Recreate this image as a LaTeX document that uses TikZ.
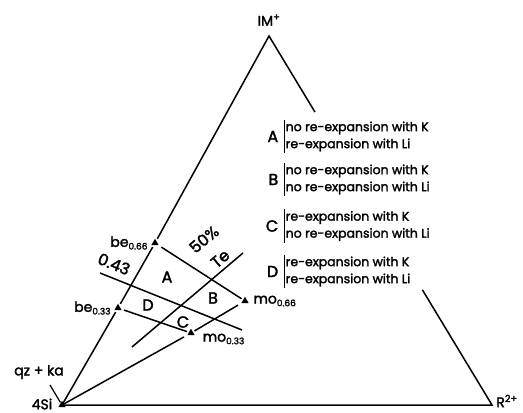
\documentclass[tikz,border=0pt]{standalone}
\usepackage{fontspec}
\setmainfont{Poppins}[FakeBold=2]
\usetikzlibrary{positioning,calc,shapes.geometric}
\newcommand{\lowsub}[1]{\raisebox{-0.35ex}{\fontsize{9}{9}\selectfont #1}}
\tikzset{
  tri/.style={regular polygon, regular polygon sides=3, fill, draw=none,
    inner sep=0pt, minimum size=8.5pt, outer sep=2pt},
  lbl/.style={inner sep=1pt, font=\fontsize{14}{15}\selectfont},
  tilted/.style={inner sep=0pt, align=center, font=\fontsize{16}{25}\selectfont},
  region/.style={inner sep=0pt, font=\fontsize{16}{16}\selectfont},
  legtext/.style={align=left, anchor=west, inner sep=1pt,
    font=\fontsize{12.5}{17}\selectfont},
  legletter/.style={inner sep=1pt, font=\fontsize{16}{16}\selectfont}
}
\begin{document}
\begin{tikzpicture}[x=1pt, y=-1pt, line width=1.5pt]
  \useasboundingbox (0,0) rectangle (523,413);
  % corners of the diagram
  \coordinate (si) at (62,405);
  \coordinate (m) at (269,36);
  \coordinate (r) at (492,405);
  \coordinate (rup) at ($(m)!0.206!(r)$);
  \coordinate (rlo) at ($(m)!0.688!(r)$);
  \node[tri] (tsi) at (si) {};
  \node[tri] (be66) at (155,243) {};
  \node[tri] (be33) at (118,308) {};
  \node[tri] (mo66) at (245,301) {};
  \node[tri] (mo33) at (191,333) {};
  % sides
  \draw[line join=miter] (si) -- (be33) -- (be66) -- (m) -- (rup);
  \draw (rlo) -- (r) -- (si);
  \draw (si) -- (mo33) -- (mo66);
  \draw (be66) -- (mo66);
  \draw (be33) -- (mo33);
  % 0.43 and 50% Te lines
  \coordinate (q0) at (100,273);
  \coordinate (q1) at (242,330);
  \draw (q0) -- (q1);
  \coordinate (t0) at (132,347);
  \coordinate (t1) at (243,253);
  \draw (t0) -- (t1);
  % corner labels
  \node[lbl] (lm) at (269,20) {IM\textsuperscript{+}};
  \node[lbl] (lsi) at (42,404) {4Si};
  \node[lbl] (lr) at (507,401) {R\textsuperscript{2+}};
  \node[lbl] (lqz) at (39,372) {qz + ka};
  \coordinate (qzend) at (50,385);
  \draw[line width=1.2pt, shorten >=3pt] (qzend) -- (si);
  \node[lbl, left=1pt of be66] (lbe66) {be\lowsub{0.66}};
  \node[lbl, left=1pt of be33] (lbe33) {be\lowsub{0.33}};
  \node[lbl, right=2pt of mo66] (lmo66) {mo\lowsub{0.66}};
  \node[lbl, anchor=west] (lmo33) at (201,339) {mo\lowsub{0.33}};
  \node[tilted, rotate=-22] (l43) at (114,264) {0.43};
  \node[tilted, rotate=40] (l50) at (212,249) {50\%\\Te};
  % fields
  \node[region] (fa) at (167,277) {A};
  \node[region] (fd) at (148,305) {D};
  \node[region] (fb) at (213,298) {B};
  \node[region] (fc) at (183,322) {C};
  % legend
  \node[legtext] (ta) at (284,136.5) {no re-expansion with K\\re-expansion with Li};
  \node[legtext] (tb) at (284,179.5) {no re-expansion with K\\no re-expansion with Li};
  \node[legtext] (tc) at (284,226) {re-expansion with K\\no re-expansion with Li};
  \node[legtext] (td) at (284,271.5) {re-expansion with K\\re-expansion with Li};
  \foreach \k/\t in {a/A,b/B,c/C,d/D}{
    \node[legletter, left=4pt of t\k] (l\k) {\t};
    \draw[line width=1pt] (t\k.north west) -- (t\k.south west);
  }
\end{tikzpicture}
\end{document}
